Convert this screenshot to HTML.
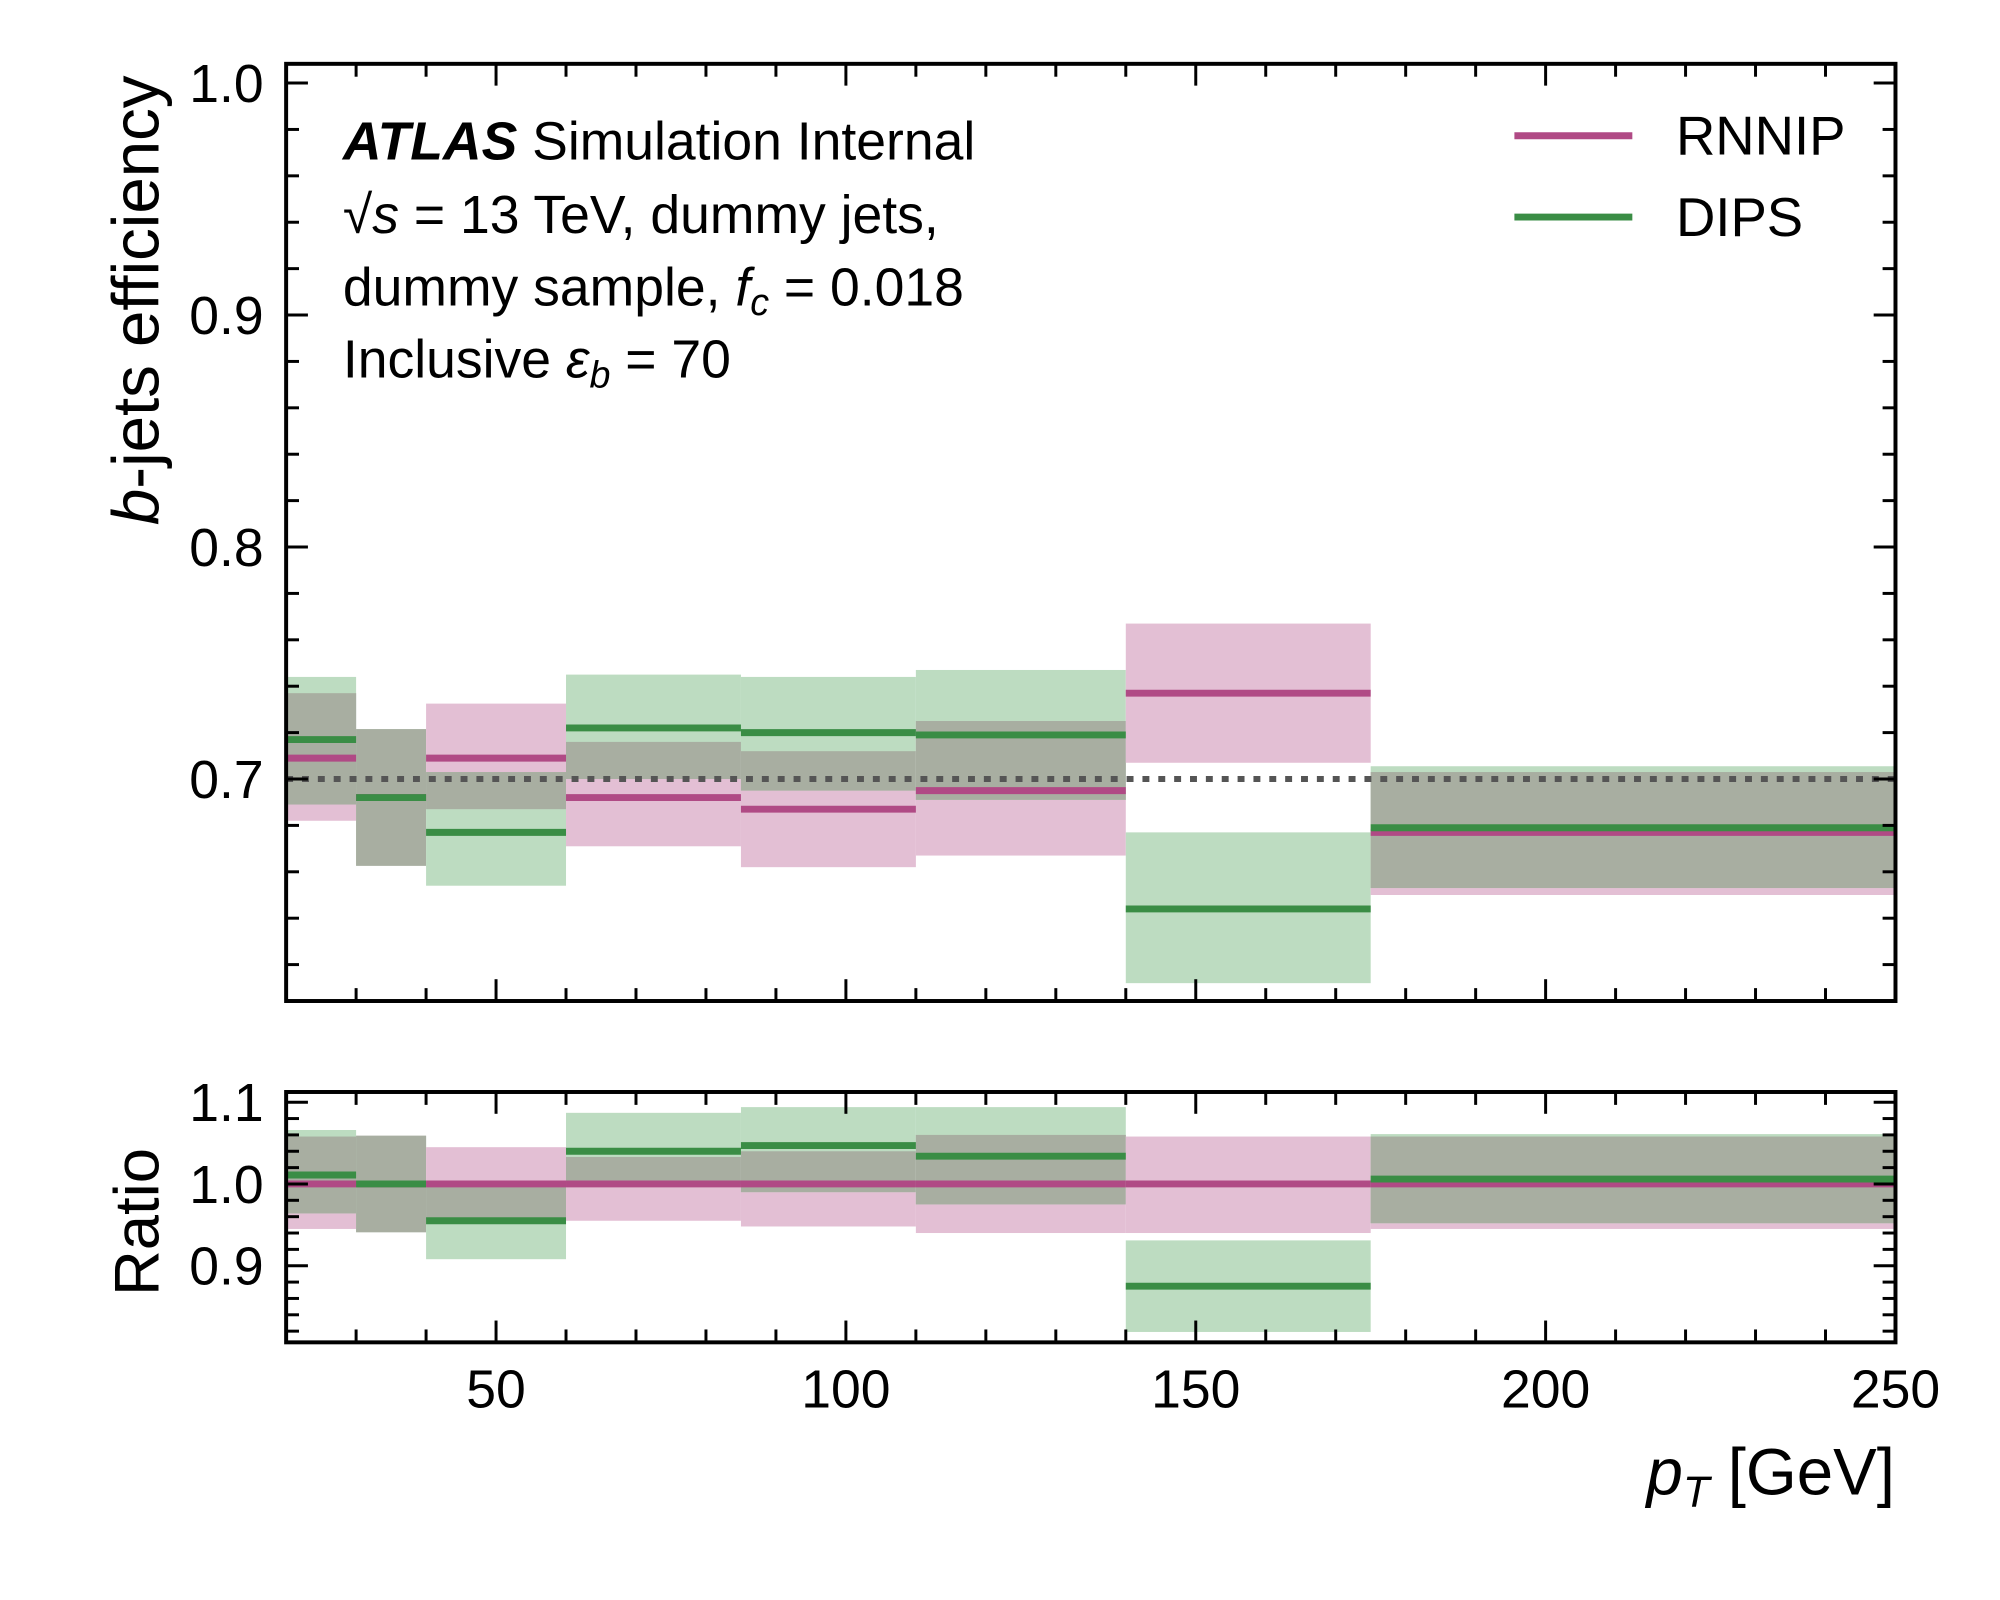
<!DOCTYPE html>
<html><head><meta charset="utf-8"><style>
html,body{margin:0;padding:0;background:#fff;}
svg{display:block;font-family:"Liberation Sans",sans-serif;}
</style></head><body>
<svg id="chart" width="2000" height="1600" viewBox="0 0 2000 1600" xmlns="http://www.w3.org/2000/svg">
<g transform="scale(0.9911)">
<g id="bands"></g><g id="lines"></g><g id="axes"></g>
<text x="346" y="161" font-size="54"><tspan font-weight="bold" font-style="italic">ATLAS</tspan> Simulation Internal</text>
<text x="346" y="235" font-size="54">√<tspan font-style="italic">s</tspan> = 13 TeV, dummy jets,</text>
<text x="346" y="308" font-size="54">dummy sample, <tspan font-style="italic">f</tspan><tspan font-style="italic" font-size="38" dy="10">c</tspan><tspan dy="-10"> = 0.018</tspan></text>
<text x="346" y="381" font-size="54">Inclusive <tspan font-style="italic">ε</tspan><tspan font-style="italic" font-size="38" dy="10">b</tspan><tspan dy="-10"> = 70</tspan></text>
<line x1="1528" y1="137" x2="1647" y2="137" stroke="#b04a85" stroke-width="7"/>
<text x="1691" y="156" font-size="55">RNNIP</text>
<line x1="1528" y1="219" x2="1647" y2="219" stroke="#3a8d45" stroke-width="7"/>
<text x="1691" y="238" font-size="55">DIPS</text>
<text transform="translate(160,303) rotate(-90)" text-anchor="middle" font-size="66"><tspan font-style="italic">b</tspan>-jets efficiency</text>
<text transform="translate(160,1233) rotate(-90)" text-anchor="middle" font-size="64">Ratio</text>
<text x="1912" y="1508" text-anchor="end" font-size="66"><tspan font-style="italic">p</tspan><tspan font-style="italic" font-size="44" dy="12">T</tspan><tspan dy="-12"> [GeV]</tspan></text>
</g>
</svg>
<script>
const edges=[20,30,40,60,85,110,140,175,250];
const rnnip=[0.709,0.692,0.709,0.692,0.687,0.695,0.737,0.677];
const rnnipHi=[0.737,0.7215,0.7325,0.716,0.712,0.725,0.767,0.703];
const rnnipLo=[0.682,0.6626,0.687,0.671,0.662,0.667,0.707,0.650];
const dips=[0.717,0.692,0.677,0.722,0.720,0.719,0.644,0.679];
const dipsHi=[0.744,0.7215,0.703,0.745,0.744,0.747,0.677,0.7055];
const dipsLo=[0.689,0.6626,0.654,0.700,0.695,0.691,0.612,0.653];
const ratioR=[1,1,1,1,1,1,1,1];
const ratioRHi=[1.058,1.059,1.045,1.033,1.04,1.06,1.058,1.058];
const ratioRLo=[0.945,0.941,0.957,0.955,0.948,0.94,0.94,0.945];
const ratioD=[1.011,1.0,0.955,1.04,1.047,1.034,0.875,1.006];
const ratioDHi=[1.066,1.059,1.0025,1.087,1.094,1.094,0.931,1.061];
const ratioDLo=[0.964,0.941,0.908,1.0,0.99,0.975,0.819,0.952];
const xTicks=[50,100,150,200,250];
const mainYTicks=[0.7,0.8,0.9,1.0];
const ratioYTicks=[0.9,1.0,1.1];

const L=288.7,R=1912.5;
const X=v=>L+(v-20)/230*(R-L);
const mainT=64.4,mainB=1010,ratT=1101.8,ratB=1354.4;
const Ym=v=>786-(v-0.7)*2340.7;
const Yr=v=>1194.6-(v-1.0)*825;
const NS='http://www.w3.org/2000/svg';
function mk(tag,attrs,parent){const e=document.createElementNS(NS,tag);for(const k in attrs)e.setAttribute(k,attrs[k]);document.getElementById(parent).appendChild(e);return e;}

function panel(Y,rc,rh,rl,dc,dh,dl,pfx){
 for(let i=0;i<edges.length-1;i++){
  const x1=X(edges[i]),x2=X(edges[i+1]);
  let e=mk('rect',{x:x1,y:Y(rh[i]),width:x2-x1,height:Y(rl[i])-Y(rh[i]),fill:'#e3bfd4'},'bands');
  
  
  e=mk('rect',{x:x1,y:Y(dh[i]),width:x2-x1,height:Y(dl[i])-Y(dh[i]),fill:'#bddcc1'},'bands');
  
  
  const oh=Math.min(rh[i],dh[i]),ol=Math.max(rl[i],dl[i]);
  if(oh>ol){
   e=mk('rect',{x:x1,y:Y(oh),width:x2-x1,height:Y(ol)-Y(oh),fill:'#a8aea1'},'bands');
   
   
  }
  e=mk('line',{x1:x1,x2:x2,y1:Y(rc[i]),y2:Y(rc[i]),stroke:'#b04a85','stroke-width':7},'lines');
  
  
  e=mk('line',{x1:x1,x2:x2,y1:Y(dc[i]),y2:Y(dc[i]),stroke:'#3a8d45','stroke-width':7},'lines');
  
  
 }
}
panel(Ym,rnnip,rnnipHi,rnnipLo,dips,dipsHi,dipsLo,'main-');
panel(Yr,ratioR,ratioRHi,ratioRLo,ratioD,ratioDHi,ratioDLo,'ratio-');
let ref=mk('line',{x1:L,x2:R,y1:Ym(0.7),y2:Ym(0.7),stroke:'#555','stroke-width':6,'stroke-dasharray':'7 9'},'lines');



function frame(T,B,Y,lo,hi,maj,name){
 let f=mk('rect',{x:L,y:T,width:R-L,height:B-T,fill:'none',stroke:'#000','stroke-width':4},'axes');
 
 
 for(let v=20;v<=250.01;v+=10){
  const m=(v%50===0),len=m?22:13,x=X(v);
  mk('line',{x1:x,x2:x,y1:B,y2:B-len,stroke:'#000','stroke-width':3},'axes');
  mk('line',{x1:x,x2:x,y1:T,y2:T+len,stroke:'#000','stroke-width':3},'axes');
 }
 for(let k=Math.ceil(lo*50);k<=Math.floor(hi*50);k++){
  const v=k/50,y=Y(v),m=(k%5===0),len=m?22:13;
  mk('line',{x1:L,x2:L+len,y1:y,y2:y,stroke:'#000','stroke-width':3},'axes');
  mk('line',{x1:R,x2:R-len,y1:y,y2:y,stroke:'#000','stroke-width':3},'axes');
 }
 maj.forEach(v=>{
  const t=mk('text',{x:266,y:Y(v)+19,'text-anchor':'end','font-size':54},'axes');
  t.textContent=v.toFixed(1);
  
  
 });
}
frame(mainT,mainB,Ym,0.6043,1.0083,mainYTicks,'main');
frame(ratT,ratB,Yr,0.8063,1.1125,ratioYTicks,'ratio');
xTicks.forEach(v=>{
 const t=mk('text',{x:X(v),y:1420,'text-anchor':'middle','font-size':54},'axes');
 t.textContent=v;
 
 
});
</script>
</body></html>
